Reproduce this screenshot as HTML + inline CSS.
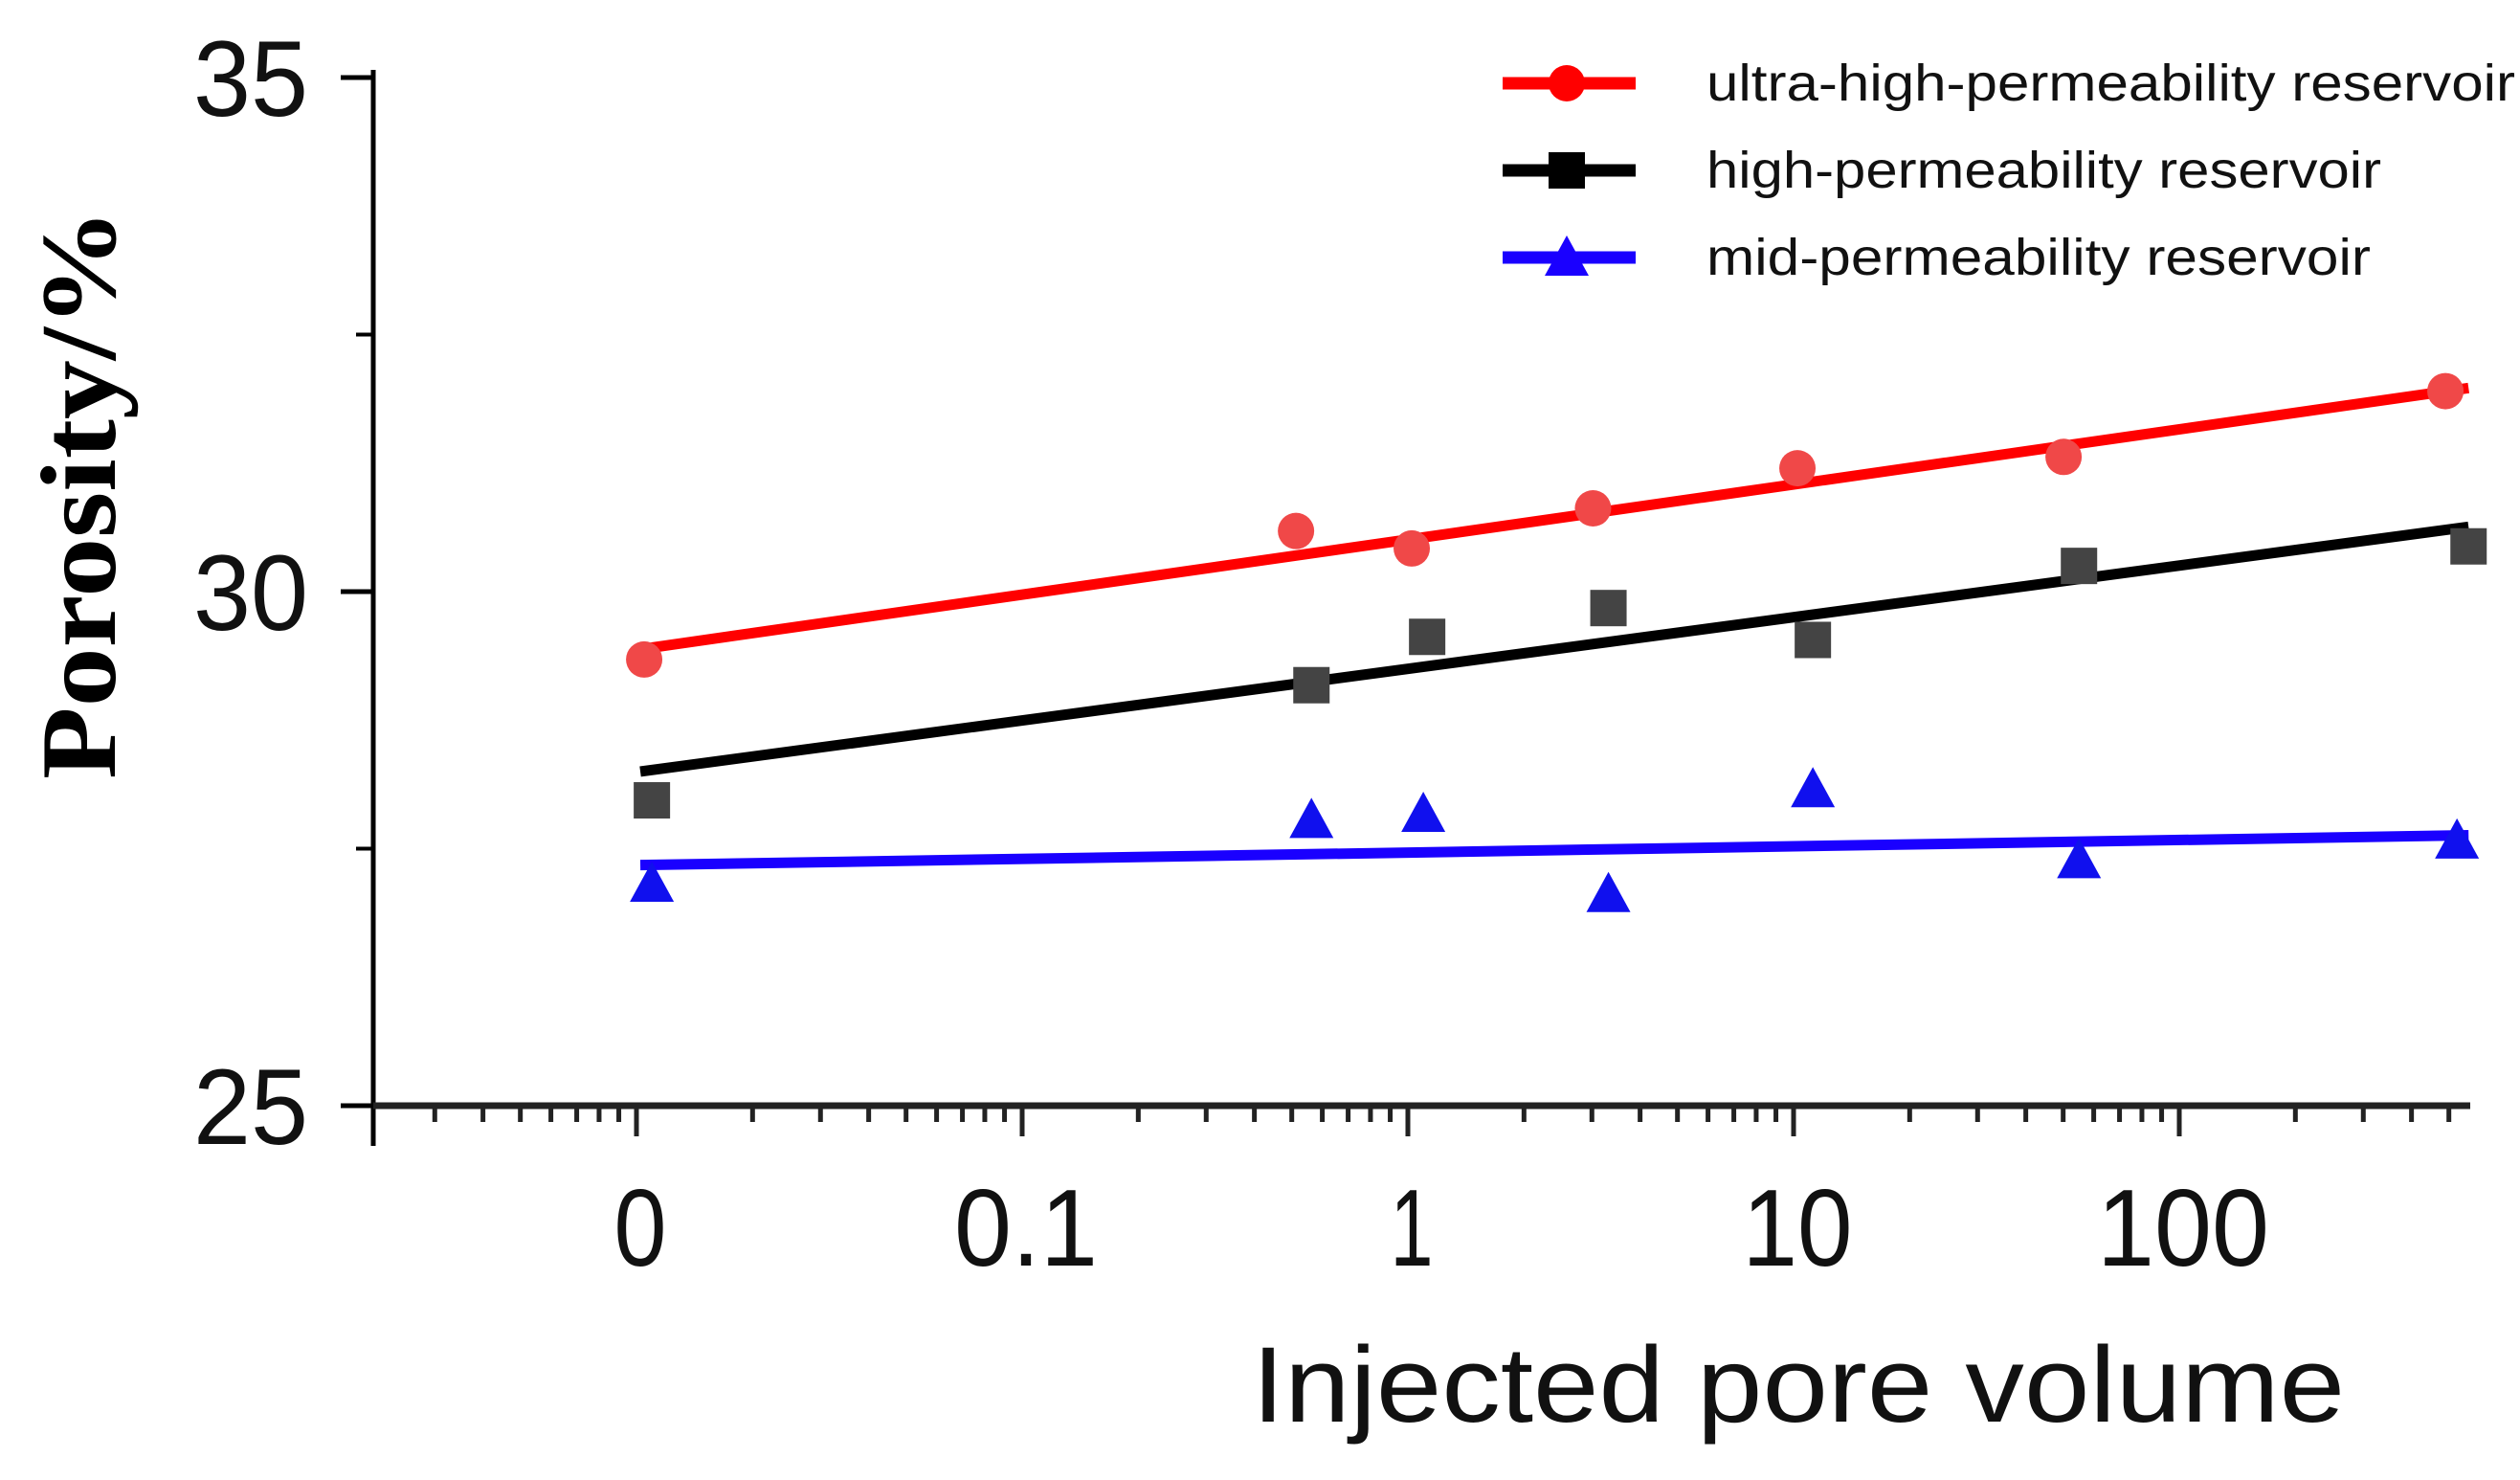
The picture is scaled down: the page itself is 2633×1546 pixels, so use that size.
<!DOCTYPE html>
<html><head><meta charset="utf-8"><style>
html,body{margin:0;padding:0;background:#fff;}
svg{display:block;}
</style></head><body>
<svg id="chart" width="2633" height="1546" viewBox="0 0 2633 1546" xmlns="http://www.w3.org/2000/svg">
<g id="axes"></g>
<g id="series"></g>
<g id="legend"></g>
</svg>
<script>
// data (x values are log10 of injected pore volume; "0" plotted at 0.01)
const xTickVals = [-2, -1, 0, 1, 2];
const xTickLabels = ["0", "0.1", "1", "10", "100"];
const yTickVals = [25, 30, 35];
const yTickLabels = ["25", "30", "35"];
const seriesNames = ["ultra-high-permeability reservoir", "high-permeability reservoir", "mid-permeability reservoir"];
const seriesColors = ["#ff0000", "#000000", "#1a00ff"];
const ultraX = [-1.98, -0.29, 0.01, 0.48, 1.01, 1.70, 2.69];
const ultraY = [29.34, 30.59, 30.42, 30.81, 31.20, 31.31, 31.95];
const highX = [-1.96, -0.25, 0.05, 0.52, 1.05, 1.74, 2.75];
const highY = [27.97, 29.09, 29.56, 29.84, 29.53, 30.25, 30.44];
const midX = [-1.96, -0.25, 0.04, 0.52, 1.05, 1.74, 2.72];
const midY = [27.16, 27.78, 27.84, 27.06, 28.08, 27.39, 27.58];
const fitX = [-1.99, 2.75];
const ultraFit = [29.44, 31.98];
const highFit = [28.25, 30.63];
const midFit = [27.34, 27.63];

const NS = "http://www.w3.org/2000/svg";
const X0 = 390, X1 = 2581, YB = 1155, YT = 81;
function sx(lv){ return 1471 + 403 * lv; }
function sy(v){ return YB - (v - 25) / 10 * (YB - YT); }
function mk(tag, attrs, parent){ const e = document.createElementNS(NS, tag); for (const k in attrs) e.setAttribute(k, attrs[k]); parent.appendChild(e); return e; }

const axes = document.getElementById('axes');
let el;
el = mk('line', {x1:X0, y1:YT-8, x2:X0, y2:YB+42, stroke:'#000', 'stroke-width':5}, axes);


el = mk('line', {x1:X0, y1:YB, x2:X1, y2:YB, stroke:'#222', 'stroke-width':7}, axes);


yTickVals.forEach((v, i) => {
  const t = mk('line', {x1:X0-34, y1:sy(v), x2:X0, y2:sy(v), stroke:'#000', 'stroke-width':5}, axes);
  
  
  const lb = mk('text', {x:322, y:sy(v)+40, 'text-anchor':'end', 'font-family':'Liberation Sans, sans-serif', 'font-size':112, fill:'#111', textLength:120, lengthAdjust:'spacingAndGlyphs'}, axes);
  lb.textContent = yTickLabels[i];
  
  
});
[27.5, 32.5].forEach(v => {
  const t = mk('line', {x1:X0-18, y1:sy(v), x2:X0, y2:sy(v), stroke:'#000', 'stroke-width':4}, axes);
  
  
});
for (let d = -3; d <= 2; d++) {
  for (let m = 1; m <= 9; m++) {
    const lv = d + Math.log10(m);
    const x = sx(lv);
    if (x < X0 + 2 || x > X1) continue;
    const major = m === 1;
    const t = mk('line', {x1:x, y1:YB, x2:x, y2:YB + (major ? 32 : 17), stroke:'#222', 'stroke-width':5}, axes);
    
    
  }
}
const xLabW = [55, 150, 45, 115, 180];
xTickVals.forEach((v, i) => {
  const lb = mk('text', {x:sx(v)+4, y:1322, 'text-anchor':'middle', 'font-family':'Liberation Sans, sans-serif', 'font-size':114, fill:'#111', textLength:xLabW[i], lengthAdjust:'spacingAndGlyphs'}, axes);
  lb.textContent = xTickLabels[i];
  
  
});
el = mk('text', {x:1308, y:1485, 'font-family':'Liberation Sans, sans-serif', 'font-size':112, fill:'#111', textLength:1142, lengthAdjust:'spacingAndGlyphs'}, axes);
el.textContent = 'Injected pore volume';


el = mk('text', {x:0, y:0, transform:'translate(120,814) rotate(-90)', 'font-family':'Liberation Serif, serif', 'font-size':112, 'font-weight':'bold', fill:'#000', textLength:596, lengthAdjust:'spacingAndGlyphs'}, axes);
el.textContent = 'Porosity/%';



function marker(kind, cx, cy, color, parent, size){
  const s = size || 38;
  let e;
  if (kind === 0) e = mk('circle', {cx:cx, cy:cy, r:s/2, fill:color}, parent);
  else if (kind === 1) e = mk('rect', {x:cx-s/2, y:cy-s/2, width:s, height:s, fill:color}, parent);
  else e = mk('polygon', {points:`${cx},${cy-s/2-4} ${cx-s/2-4},${cy+s/2} ${cx+s/2+4},${cy+s/2}`, fill:color}, parent);
  return e;
}

const series = document.getElementById('series');
const allX = [ultraX, highX, midX], allY = [ultraY, highY, midY], fits = [ultraFit, highFit, midFit];
const pointColors = ["#f04848", "#444444", "#1010ee"];
const names = ['ultra', 'high', 'mid'];
for (let s = 0; s < 3; s++) {
  const ln = mk('line', {x1:sx(fitX[0]), y1:sy(fits[s][0]), x2:sx(fitX[1]), y2:sy(fits[s][1]), stroke:seriesColors[s], 'stroke-width':11}, series);
  
  
  for (let i = 0; i < allX[s].length; i++) {
    const m = marker(s, sx(allX[s][i]), sy(allY[s][i]), pointColors[s], series);
    
    
  }
}

const legend = document.getElementById('legend');
const legY = [87, 178, 269];
const legW = [845, 705, 694];
for (let s = 0; s < 3; s++) {
  const g = mk('g', {}, legend);
  
  
  mk('line', {x1:1570, y1:legY[s], x2:1709, y2:legY[s], stroke:seriesColors[s], 'stroke-width':13}, g);
  marker(s, 1637, legY[s], seriesColors[s], g, 38);
  const t = mk('text', {x:1783, y:legY[s]+18, 'font-family':'Liberation Sans, sans-serif', 'font-size':54, fill:'#111', textLength:legW[s], lengthAdjust:'spacingAndGlyphs'}, g);
  t.textContent = seriesNames[s];
}
</script>
</body></html>
